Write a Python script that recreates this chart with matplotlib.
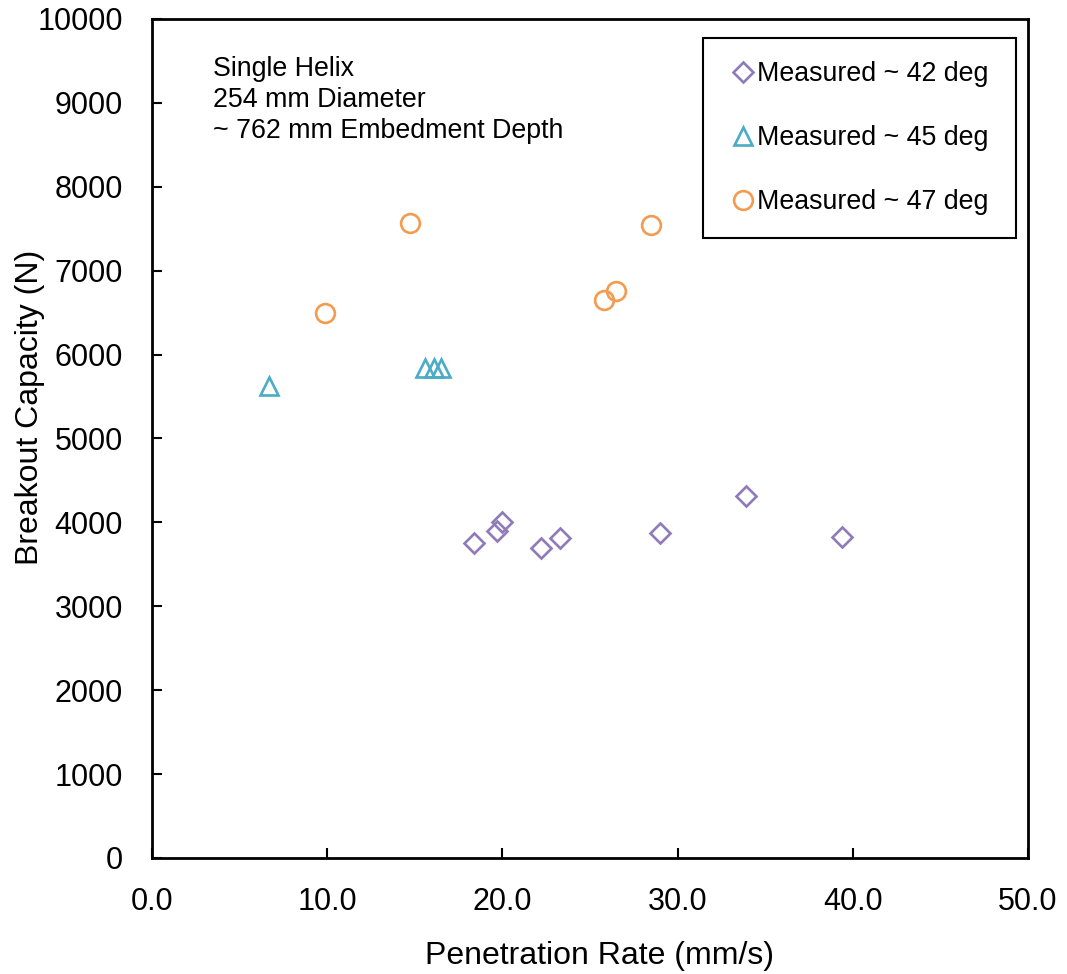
import matplotlib
matplotlib.use("Agg")
import matplotlib.pyplot as plt

plt.rcParams['font.family'] = ['Liberation Sans', 'DejaVu Sans']

# Data
x42 = [18.4, 19.7, 20.0, 22.2, 23.3, 29.0, 33.9, 39.4]
y42 = [3750, 3900, 4010, 3690, 3810, 3870, 4320, 3820]
x45 = [6.7, 15.6, 16.1, 16.5]
y45 = [5630, 5840, 5840, 5840]
x47 = [9.9, 14.7, 25.8, 26.5, 28.5]
y47 = [6500, 7570, 6650, 6760, 7540]

labels = ["Measured ~ 42 deg", "Measured ~ 45 deg", "Measured ~ 47 deg"]
xticks = [0, 10, 20, 30, 40, 50]
yticks = list(range(0, 10001, 1000))

fig = plt.figure(figsize=(10.67, 9.74), dpi=100)
ax = fig.add_axes([0.1425, 0.1191, 0.8209, 0.8614])

mk = dict(linestyle='none', markerfacecolor='none', markeredgewidth=1.9)
ax.plot(x42, y42, marker='D', markersize=9.8, markeredgecolor='#8F7BB8', label=labels[0], **mk)
ax.plot(x45, y45, marker='^', markersize=13.5, markeredgecolor='#4BACC6', label=labels[1], **mk)
ax.plot(x47, y47, marker='o', markersize=13.5, markeredgecolor='#F39B4F', label=labels[2], **mk)

ax.set_xlim(0, 50)
ax.set_ylim(0, 10000)
ax.set_xticks(xticks)
ax.set_xticklabels([f"{v:.1f}" for v in xticks])
ax.set_yticks(yticks)
ax.set_yticklabels([str(v) for v in yticks])
ax.tick_params(direction='in', length=7, width=1.5, labelsize=22)
ax.tick_params(axis='x', pad=21)
ax.tick_params(axis='y', pad=21)
for s in ax.spines.values():
    s.set_linewidth(2)

ax.set_xlabel("Penetration Rate (mm/s)", fontsize=23)
ax.set_ylabel("Breakout Capacity (N)", fontsize=23)
ax.xaxis.set_label_coords(0.511, -0.099)
ax.yaxis.set_label_coords(-0.122, 0.537)

ax.text(0.07, 0.956, "Single Helix\n254 mm Diameter\n~ 762 mm Embedment Depth",
        transform=ax.transAxes, fontsize=19.3, va='top', ha='left', linespacing=1.25)

leg = ax.legend(loc='upper left', bbox_to_anchor=(0.629, 0.5, 0.357, 0.477), mode='expand',
                fontsize=19.3, frameon=True, fancybox=False, edgecolor='black', framealpha=1,
                handlelength=1.25, handletextpad=-0.1, labelspacing=1.42,
                borderpad=0.85, borderaxespad=0)
leg.get_frame().set_linewidth(1.5)

fig.savefig("out.png", dpi=100)
